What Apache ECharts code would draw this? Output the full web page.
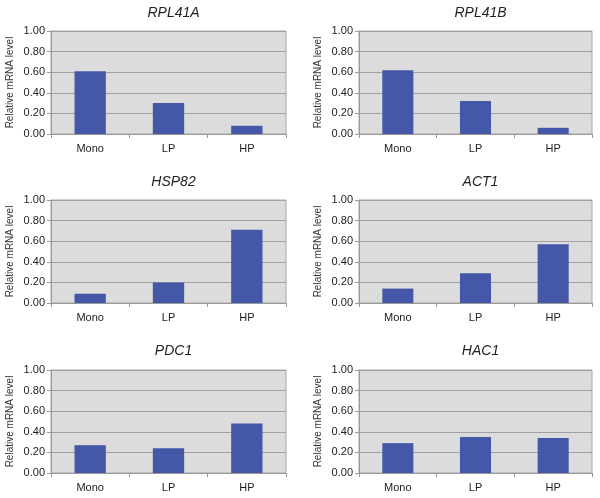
<!DOCTYPE html>
<html>
<head>
<meta charset="utf-8">
<script src="https://cdn.jsdelivr.net/npm/echarts@6/dist/echarts.min.js"></script>
<style>html,body{margin:0;padding:0;background:#fff}#c{width:600px;height:498px}</style>
</head>
<body>
<div id="c"></div>
<script>
const categories = ['Mono', 'LP', 'HP'];
const genes = ['RPL41A', 'RPL41B', 'HSP82', 'ACT1', 'PDC1', 'HAC1'];
const rpl41a = [0.61, 0.30, 0.08];
const rpl41b = [0.62, 0.32, 0.06];
const hsp82 = [0.09, 0.20, 0.71];
const act1 = [0.14, 0.29, 0.57];
const pdc1 = [0.27, 0.24, 0.48];
const hac1 = [0.29, 0.35, 0.34];
const yTicks = [0, 0.2, 0.4, 0.6, 0.8, 1.0];
const allValues = [rpl41a, rpl41b, hsp82, act1, pdc1, hac1];

const lefts = [51, 359];
const widths = [235, 233];
const tops = [31, 200, 370];
const titleTops = [1, 170, 339];
const H = 103;

const chart = echarts.init(document.getElementById('c'));
const grids = [], xAxes = [], yAxes = [], series = [], titles = [];
genes.forEach((g, i) => {
  const col = i % 2, row = Math.floor(i / 2);
  grids.push({left: lefts[col], top: tops[row], width: widths[col], height: H,
    show: true, backgroundColor: '#DCDCDC', borderColor: '#A8A8A8', borderWidth: 1});
  titles.push({text: g, left: lefts[col] + widths[col] / 2, top: titleTops[row], textAlign: 'center',
    textStyle: {fontFamily: 'Liberation Sans, Arial', fontStyle: 'italic', fontWeight: 'normal', fontSize: 14, color: '#222'}});
  xAxes.push({type: 'category', gridIndex: i, data: categories,
    axisLine: {lineStyle: {color: '#999'}},
    axisTick: {show: true, length: 4, lineStyle: {color: '#999'}},
    axisLabel: {margin: 9, fontFamily: 'Liberation Sans, Arial', fontSize: 11, color: '#222'}});
  yAxes.push({type: 'value', gridIndex: i, min: 0, max: 1, interval: 0.2,
    name: 'Relative mRNA level', nameLocation: 'middle', nameGap: 36,
    nameTextStyle: {fontFamily: 'Liberation Sans, Arial', fontSize: 10, color: '#333'},
    axisLine: {show: true, lineStyle: {color: '#999'}},
    axisTick: {show: true, length: 4, lineStyle: {color: '#999'}},
    splitLine: {lineStyle: {color: '#A0A0A0', width: 1}},
    axisLabel: {margin: 6, fontFamily: 'Liberation Sans, Arial', fontSize: 11, color: '#222',
      formatter: v => v.toFixed(2)}});
  series.push({type: 'bar', xAxisIndex: i, yAxisIndex: i, data: allValues[i],
    barWidth: '40%', itemStyle: {color: '#4558A8'}, silent: true, animation: false});
});
chart.setOption({animation: false, title: titles, grid: grids, xAxis: xAxes, yAxis: yAxes, series: series});
</script>
</body>
</html>
